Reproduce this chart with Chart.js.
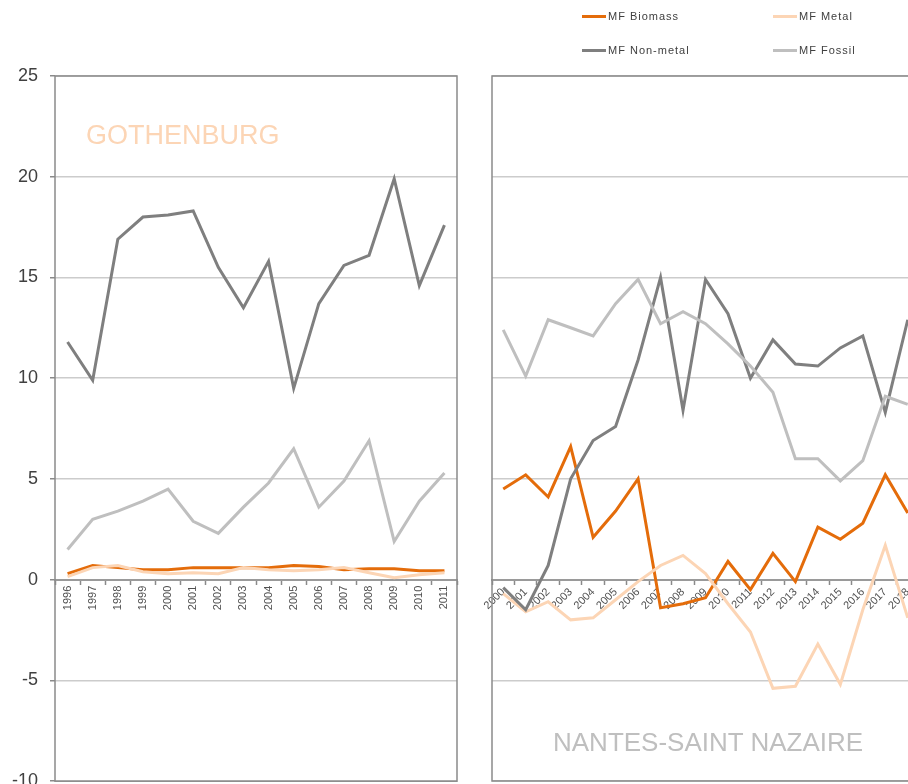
<!DOCTYPE html>
<html lang="en">
<head>
    <meta charset="UTF-8">
    <title>Material flows</title>
    <script src="https://cdn.jsdelivr.net/npm/chart.js"></script>
    <style>
        body {
            margin: 0;
            width: 908px;
            height: 784px;
            overflow: hidden;
            position: relative;
            background: #fff;
            font-family: "Liberation Sans", Arial, sans-serif;
        }
        .chart-box {
            position: absolute;
            top: 0;
        }
        /* left box runs below the window so the -10 line lands at the bottom edge */
        #leftBox { left: 0; width: 470px; height: 804px; }
        #rightBox { left: 480px; width: 452px; height: 784px; }
        .city {
            position: absolute;
            line-height: 1;
            white-space: nowrap;
        }
        #gothenburg { left: 86px; top: 122px; font-size: 27px; color: #fcd5b5; }
        #nantes { left: 553px; top: 729px; font-size: 26px; color: #bfbfbf; }
        #legend {
            position: absolute;
            left: 582px;
            top: 8px;
            display: grid;
            grid-template-columns: 191px 120px;
            row-gap: 18px;
            font-size: 11px;
            letter-spacing: 1px;
            color: #404040;
        }
        .legend-item { display: flex; align-items: center; height: 16px; }
        .legend-item span.swatch { width: 24px; height: 3px; margin-right: 2px; }
    </style>
</head>
<body>
    <div class="chart-box" id="leftBox"><canvas id="leftChart"></canvas></div>
    <div class="chart-box" id="rightBox"><canvas id="rightChart"></canvas></div>
    <div class="city" id="gothenburg">GOTHENBURG</div>
    <div class="city" id="nantes">NANTES-SAINT NAZAIRE</div>
    <div id="legend"></div>

    <script>
        const seriesNames = ['MF Biomass', 'MF Metal', 'MF Non-metal', 'MF Fossil'];
        const seriesColors = ['#e46c0a', '#fcd5b5', '#7f7f7f', '#bfbfbf'];
        const yTicks = [-10, -5, 0, 5, 10, 15, 20, 25];

        // Gothenburg 1996-2011
        const gothenburgYears = ['1996', '1997', '1998', '1999', '2000', '2001', '2002', '2003',
            '2004', '2005', '2006', '2007', '2008', '2009', '2010', '2011'];
        const gothenburgBiomass = [0.3, 0.7, 0.6, 0.5, 0.5, 0.6, 0.6, 0.6, 0.6, 0.7, 0.65, 0.5, 0.55, 0.55, 0.45, 0.45];
        const gothenburgMetal = [0.15, 0.6, 0.7, 0.4, 0.3, 0.35, 0.3, 0.6, 0.5, 0.45, 0.5, 0.6, 0.35, 0.1, 0.25, 0.35];
        const gothenburgNonMetal = [11.8, 9.9, 16.9, 18.0, 18.1, 18.3, 15.5, 13.5, 15.8, 9.5, 13.7, 15.6, 16.1, 19.9, 14.6, 17.6];
        const gothenburgFossil = [1.5, 3.0, 3.4, 3.9, 4.5, 2.9, 2.3, 3.6, 4.8, 6.5, 3.6, 4.9, 6.9, 1.9, 3.9, 5.3];

        // Nantes-Saint Nazaire 2000-2018
        const nantesYears = ['2000', '2001', '2002', '2003', '2004', '2005', '2006', '2007', '2008', '2009',
            '2010', '2011', '2012', '2013', '2014', '2015', '2016', '2017', '2018'];
        const nantesBiomass = [4.5, 5.2, 4.1, 6.6, 2.1, 3.4, 5.0, -1.4, -1.2, -0.9, 0.9, -0.5, 1.3, -0.1, 2.6, 2.0, 2.8, 5.2, 3.3];
        const nantesMetal = [-0.7, -1.6, -1.1, -2.0, -1.9, -1.0, -0.1, 0.7, 1.2, 0.3, -1.2, -2.6, -5.4, -5.3, -3.2, -5.2, -1.5, 1.7, -1.9];
        const nantesNonMetal = [-0.4, -1.5, 0.7, 5.0, 6.9, 7.6, 10.9, 15.0, 8.4, 14.9, 13.2, 10.0, 11.9, 10.7, 10.6, 11.5, 12.1, 8.3, 12.9];
        const nantesFossil = [12.4, 10.1, 12.9, 12.5, 12.1, 13.7, 14.9, 12.7, 13.3, 12.7, 11.7, 10.6, 9.3, 6.0, 6.0, 4.9, 5.9, 9.1, 8.7];

        // legend built from the series arrays
        const legend = document.getElementById('legend');
        seriesNames.forEach((name, i) => {
            const item = document.createElement('div');
            item.className = 'legend-item';
            item.innerHTML = '<span class="swatch" style="background:' + seriesColors[i] + '"></span>' + name;
            legend.appendChild(item);
        });

        const framePlugin = {
            id: 'frame',
            beforeDatasetsDraw(chart) {
                const { ctx, chartArea: a } = chart;
                ctx.save();
                ctx.strokeStyle = '#8a8a8a';
                ctx.lineWidth = 1.5;
                ctx.strokeRect(a.left, a.top, a.right - a.left, a.bottom - a.top);
                ctx.restore();
            }
        };

        function makeDatasets(values) {
            return values.map((v, i) => ({
                label: seriesNames[i],
                data: v,
                borderColor: seriesColors[i],
                borderWidth: 3,
                pointRadius: 0,
                tension: 0,
                fill: false
            })).reverse();
        }

        function makeChart(id, labels, values, opts) {
            return new Chart(document.getElementById(id), {
                type: 'line',
                data: { labels: labels, datasets: makeDatasets(values) },
                options: {
                    responsive: true,
                    maintainAspectRatio: false,
                    animation: false,
                    layout: { padding: opts.padding },
                    plugins: { legend: { display: false }, tooltip: { enabled: false } },
                    scales: {
                        x: {
                            type: 'category',
                            position: { y: 0 },
                            offset: true,
                            grid: {
                                offset: true,
                                drawOnChartArea: false,
                                drawTicks: true,
                                tickLength: 4,
                                tickColor: '#8a8a8a',
                                tickWidth: 1.5
                            },
                            border: { color: '#9a9a9a', width: 2 },
                            ticks: {
                                autoSkip: false,
                                minRotation: opts.rotation,
                                maxRotation: opts.rotation,
                                padding: 2,
                                color: '#505050',
                                font: { family: 'Liberation Sans', size: 11 }
                            }
                        },
                        y: {
                            min: yTicks[0],
                            max: yTicks[yTicks.length - 1],
                            afterBuildTicks: scale => { scale.ticks = yTicks.map(v => ({ value: v })); },
                            afterFit: scale => { scale.width = opts.yWidth; },
                            grid: {
                                color: '#cccccc',
                                lineWidth: 1.5,
                                drawTicks: opts.yLabels,
                                tickLength: 5,
                                tickColor: '#8a8a8a'
                            },
                            border: { display: false },
                            ticks: {
                                display: opts.yLabels,
                                padding: 12,
                                color: '#404040',
                                font: { family: 'Liberation Sans', size: 18 }
                            }
                        }
                    }
                },
                plugins: [framePlugin]
            });
        }

        makeChart('leftChart', gothenburgYears,
            [gothenburgBiomass, gothenburgMetal, gothenburgNonMetal, gothenburgFossil],
            { padding: { top: 76, bottom: 3, left: 0, right: 13 }, rotation: 90, yWidth: 55, yLabels: true });

        makeChart('rightChart', nantesYears,
            [nantesBiomass, nantesMetal, nantesNonMetal, nantesFossil],
            { padding: { top: 76, bottom: 3, left: 12, right: 13 }, rotation: 45, yWidth: 0, yLabels: false });
    </script>
</body>
</html>
